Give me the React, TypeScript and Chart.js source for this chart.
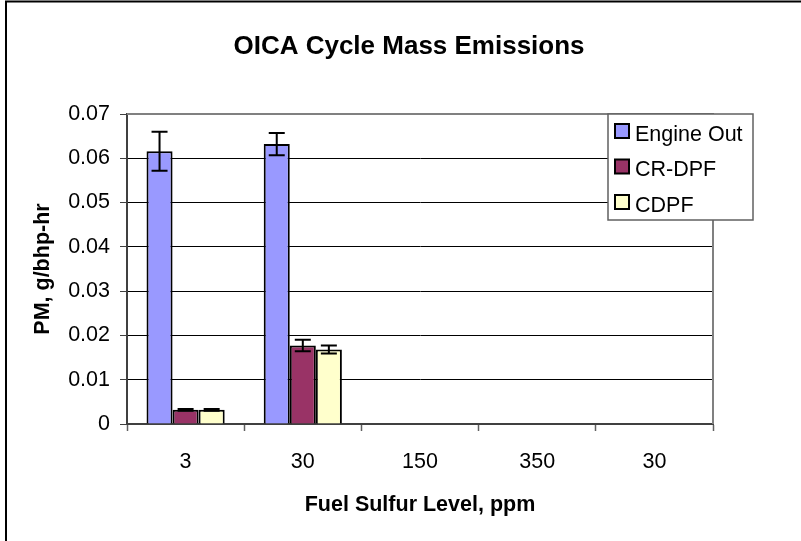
import React, { useEffect, useRef } from "react";
import { Chart, registerables } from "chart.js";

Chart.register(...registerables);

const chartTitle = "OICA Cycle Mass Emissions";
const xTitle = "Fuel Sulfur Level, ppm";
const yTitle = "PM, g/bhp-hr";
const categories = ["3", "30", "150", "350", "30"];
const seriesNames = ["Engine Out", "CR-DPF", "CDPF"];
const seriesColors = ["#9999FF", "#993366", "#FFFFCC"];
const engineOut = [0.0616, 0.0632, null, null, null];
const crDpf = [0.0032, 0.0177, null, null, null];
const cdpf = [0.0032, 0.0168, null, null, null];
const engineOutErr = [0.0044, 0.0025, null, null, null];
const crDpfErr = [0.0002, 0.0013, null, null, null];
const cdpfErr = [0.0002, 0.0009, null, null, null];
const yMin = 0;
const yMax = 0.07;
const yStep = 0.01;

const FONT = "'Liberation Sans', Arial, sans-serif";
const seriesValues = [engineOut, crDpf, cdpf];
const seriesErrors = [engineOutErr, crDpfErr, cdpfErr];

const framePlugin = {
  id: "frame",
  beforeDraw(chart: any) {
    const { ctx } = chart;
    ctx.save();
    ctx.fillStyle = "#fff";
    ctx.fillRect(0, 0, chart.width, chart.height);
    ctx.strokeStyle = "#000";
    ctx.lineWidth = 2;
    ctx.beginPath();
    ctx.moveTo(6, chart.height);
    ctx.lineTo(6, 1.5);
    ctx.lineTo(chart.width, 1.5);
    ctx.stroke();
    ctx.restore();
  },
  afterDraw(chart: any) {
    const { ctx } = chart;
    ctx.save();
    ctx.fillStyle = "#000";
    ctx.font = `bold 26px ${FONT}`;
    ctx.textAlign = "center";
    ctx.textBaseline = "middle";
    ctx.fillText(chartTitle, 409, 47);
    ctx.restore();
  },
};

const plotBorderPlugin = {
  id: "plotBorder",
  beforeDatasetsDraw(chart: any) {
    const { ctx, chartArea: a } = chart;
    ctx.save();
    ctx.strokeStyle = "#808080";
    ctx.lineWidth = 2;
    ctx.beginPath();
    ctx.moveTo(a.left, a.top);
    ctx.lineTo(a.right, a.top);
    ctx.lineTo(a.right, a.bottom);
    ctx.stroke();
    ctx.restore();
  },
};

const errorBarPlugin = {
  id: "errorBars",
  afterDatasetsDraw(chart: any) {
    const { ctx } = chart;
    const y = chart.scales.y;
    ctx.save();
    ctx.strokeStyle = "#000";
    ctx.lineWidth = 2;
    seriesValues.forEach((vals, i) => {
      const meta = chart.getDatasetMeta(i);
      meta.data.forEach((bar: any, j: number) => {
        const v = vals[j];
        const e = seriesErrors[i][j];
        if (v == null || e == null) return;
        const top = y.getPixelForValue(v + e);
        const bot = y.getPixelForValue(v - e);
        const x = bar.x;
        ctx.beginPath();
        ctx.moveTo(x, top);
        ctx.lineTo(x, bot);
        ctx.moveTo(x - 8, top);
        ctx.lineTo(x + 8, top);
        ctx.moveTo(x - 8, bot);
        ctx.lineTo(x + 8, bot);
        ctx.stroke();
      });
    });
    ctx.restore();
  },
};

const legendPlugin = {
  id: "customLegend",
  afterDraw(chart: any) {
    const { ctx } = chart;
    const bx = 608, by = 114, bw = 145, bh = 106;
    ctx.save();
    ctx.fillStyle = "#fff";
    ctx.fillRect(bx, by, bw, bh);
    ctx.strokeStyle = "#606060";
    ctx.lineWidth = 1.5;
    ctx.strokeRect(bx, by, bw, bh);
    ctx.font = `21.5px ${FONT}`;
    ctx.textAlign = "left";
    ctx.textBaseline = "middle";
    seriesNames.forEach((name, i) => {
      const cy = 131 + i * 35.5;
      ctx.fillStyle = seriesColors[i];
      ctx.fillRect(615, cy - 7, 14, 14);
      ctx.strokeStyle = "#000";
      ctx.lineWidth = 2;
      ctx.strokeRect(615, cy - 7, 14, 14);
      ctx.fillStyle = "#000";
      ctx.fillText(name, 635, cy + 4);
    });
    ctx.restore();
  },
};

export default function App() {
  const ref = useRef<HTMLCanvasElement | null>(null);
  useEffect(() => {
    document.body.style.margin = "0";
    const canvas = ref.current;
    if (!canvas) return;
    const chart = new Chart(canvas, {
      type: "bar",
      data: {
        labels: categories,
        datasets: seriesNames.map((name, i) => ({
          label: name,
          data: seriesValues[i] as any,
          backgroundColor: seriesColors[i],
          borderColor: "#000",
          borderWidth: 2,
          categoryPercentage: 0.667,
          barPercentage: 1,
        })),
      },
      options: {
        responsive: false,
        animation: false,
        layout: { padding: { left: 0, top: 114, right: 88, bottom: 0 } },
        plugins: {
          legend: { display: false },
          title: { display: false },
          tooltip: { enabled: false },
        },
        scales: {
          x: {
            grid: {
              drawOnChartArea: false,
              drawTicks: true,
              tickLength: 7,
              tickColor: "#606060",
              tickWidth: 1.5,
              offset: true,
            },
            border: { color: "#404040", width: 2 },
            ticks: {
              color: "#000",
              font: { family: FONT, size: 21.5 },
              padding: 18,
              maxRotation: 0,
            },
            title: {
              display: true,
              text: xTitle,
              color: "#000",
              font: { family: FONT, size: 21.5, weight: "bold", lineHeight: 1.2 },
              padding: { top: 0, bottom: 23 },
            },
            afterFit(scale: any) {
              scale.height = 117;
            },
          },
          y: {
            min: yMin,
            max: yMax,
            grid: {
              color: (c: any) => (c.tick && Math.abs(c.tick.value - yMax) < 1e-9 ? "#808080" : "#000"),
              lineWidth: 1,
              drawTicks: true,
              tickLength: 7,
              tickColor: "#404040",
            },
            border: { color: "#404040", width: 2 },
            ticks: {
              stepSize: yStep,
              color: "#000",
              font: { family: FONT, size: 21.5 },
              padding: 10,
              callback: (v: any) => String(+Number(v).toFixed(2)),
            },
            title: {
              display: true,
              text: yTitle,
              color: "#000",
              font: { family: FONT, size: 21.5, weight: "bold", lineHeight: 1.2 },
              padding: { top: 30, bottom: 0 },
            },
            afterFit(scale: any) {
              scale.width = 127;
            },
          },
        },
      },
      plugins: [framePlugin, plotBorderPlugin, errorBarPlugin, legendPlugin],
    });
    return () => chart.destroy();
  }, []);
  return (
    <div style={{ width: 801, height: 541 }}>
      <canvas ref={ref} width={801} height={541} style={{ display: "block" }} />
    </div>
  );
}
